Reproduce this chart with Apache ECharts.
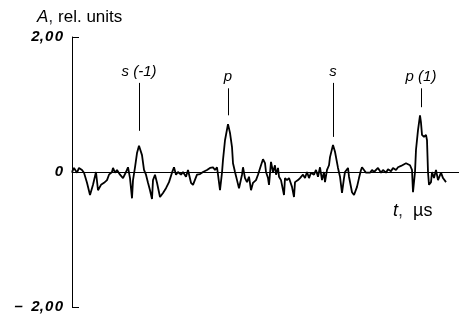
<!DOCTYPE html>
<html>
<head>
<meta charset="utf-8">
<script src="https://cdn.jsdelivr.net/npm/echarts@6/dist/echarts.min.js"></script>
<style>
  html, body { margin: 0; padding: 0; background: #fff; }
  #main { width: 459px; height: 324px; }
</style>
</head>
<body>
<div id="main"></div>
<script>
// time (arbitrary units along the trace) and amplitude
var times = [0,2,5,7,10,12,15,18,21,24,26,29,32,35,37,40,41,43,45,48,51,54,56,58,60,61,63,65,67,70,
    72,74,76,78,80,81,83,85,88,91,94,97,100,102,104,106,109,111,114,116,119,121,125,128,131,133,135,138,141,143,
    145,146,148,150,151,153,156,158,160,161,163,165,167,170,171,173,175,177,179,181,184,186,189,191,193,194,196,197,199,201,
    203,204,206,207,209,212,213,215,217,220,222,223,226,228,231,233,235,237,239,242,244,246,248,250,252,253,255,257,258,261,
    263,266,268,270,272,273,276,277,280,282,285,287,289,290,292,294,295,298,300,302,304,306,309,311,314,316,319,321,324,326,
    329,331,334,336,338,340,341,343,344,346,348,349,350,352,354,355,356,357,359,360,362,364,366,369,371,373,374];
var amps = [0,0.06,-0.01,0.06,0.03,-0.01,-0.16,-0.34,-0.19,0,-0.27,-0.19,-0.16,-0.12,-0.04,0,0.06,-0.01,0.03,-0.04,-0.09,0,0.07,-0.09,-0.39,-0.12,0.07,0.28,0.39,0.25,
    0.03,-0.04,-0.16,-0.27,-0.40,-0.12,-0.04,-0.16,-0.37,-0.31,-0.24,-0.15,-0.01,0.07,-0.04,0,-0.04,0,-0.07,0.03,-0.16,-0.19,-0.04,-0.03,0,0,0.03,0.06,0.07,0.03,
    0.07,-0.04,-0.27,-0.01,0.18,0.47,0.71,0.58,0.37,0.13,0,-0.12,-0.24,-0.04,0.07,-0.09,-0.15,-0.07,-0.27,-0.16,-0.12,-0.04,0.10,0.19,0.13,0,-0.09,-0.19,0.15,0,
    0.10,-0.04,0.06,-0.07,-0.12,-0.34,-0.09,-0.12,-0.09,-0.22,-0.37,-0.15,-0.12,-0.09,-0.04,-0.09,0,-0.09,-0.01,-0.04,0.03,-0.07,0.07,-0.12,0,-0.15,0.03,0.10,0.22,0.40,
    0.30,0.06,-0.07,-0.31,-0.09,0,0.06,-0.07,-0.30,-0.34,-0.22,-0.09,0.03,0.07,0.03,-0.01,0.01,-0.01,0.03,0,-0.01,0.06,-0.01,0.03,-0.01,0.04,0.01,0.06,0.03,0.07,
    0.09,0.10,0.13,0.15,0.10,0.03,-0.30,0,0.33,0.62,0.84,0.73,0.55,0.52,0.55,0.47,0,-0.19,-0.15,0,-0.09,0.03,-0.12,-0.01,-0.09,-0.07,-0.15];

// wave markers above the peaks
var markerNames = ['s (-1)', 'p', 's', 'p (1)'];
var markerTimes = [67, 156, 261, 349];
var markerTop = [1.32, 1.24, 1.32, 1.24];
var markerBottom = [0.61, 0.84, 0.52, 0.96];

var yTicks = [-2, 0, 2];
var yTickLabels = ['\u2013  2,\u200a0\u200a0', '0', '2,\u200a0\u200a0'];

var font = '"Liberation Sans", Arial, sans-serif';

var trace = times.map(function (t, i) { return [t, amps[i]]; });
var marks = markerTimes.map(function (t, i) {
    return [
        { coord: [t, markerTop[i]], name: markerNames[i] },
        { coord: [t, markerBottom[i]] }
    ];
});

var myChart = echarts.init(document.getElementById('main'));
myChart.setOption({
    animation: false,
    backgroundColor: '#fff',
    title: [{
        left: 32, top: 3,
        text: '{i|A},{n| rel. units}',
        textStyle: {
            fontWeight: 'normal',
            rich: {
                i: { fontFamily: font, fontSize: 17, fontStyle: 'italic', fontWeight: 'normal', color: '#000' },
                n: { fontFamily: font, fontSize: 17, fontWeight: 'normal', color: '#000' }
            }
        }
    }, {
        left: 388, top: 197,
        text: '{i|t},{n|  \u00b5s}',
        textStyle: {
            fontWeight: 'normal',
            rich: {
                i: { fontFamily: font, fontSize: 18, fontStyle: 'italic', fontWeight: 'normal', color: '#000' },
                n: { fontFamily: font, fontSize: 18, fontWeight: 'normal', color: '#000' }
            }
        }
    }],
    grid: { left: 72, right: 0, top: 37, bottom: 17 },
    xAxis: {
        type: 'value',
        min: 0,
        max: 387,
        axisLine: { onZero: true, lineStyle: { color: '#000', width: 1 } },
        axisTick: { show: false },
        axisLabel: { show: false },
        splitLine: { show: false }
    },
    yAxis: {
        type: 'value',
        min: -2,
        max: 2,
        interval: 2,
        axisLine: { show: true, lineStyle: { color: '#000', width: 1 } },
        axisTick: { show: true, inside: true, length: 7, lineStyle: { color: '#000' } },
        splitLine: { show: false },
        axisLabel: {
            margin: 9,
            fontFamily: font,
            fontSize: 15,
            fontStyle: 'italic',
            fontWeight: 'bold',
            color: '#000',
            formatter: function (v) {
                var k = yTicks.indexOf(v);
                return k >= 0 ? yTickLabels[k] : '';
            }
        }
    },
    series: [{
        type: 'line',
        data: trace,
        showSymbol: false,
        symbol: 'none',
        lineStyle: { color: '#000', width: 1.8 },
        markLine: {
            silent: true,
            symbol: ['none', 'none'],
            lineStyle: { color: '#000', width: 1, type: 'solid' },
            label: {
                show: true,
                position: 'start',
                distance: 4,
                formatter: '{b}',
                fontFamily: font,
                fontSize: 15,
                fontStyle: 'italic',
                color: '#000'
            },
            data: marks
        }
    }]
});
</script>
</body>
</html>
